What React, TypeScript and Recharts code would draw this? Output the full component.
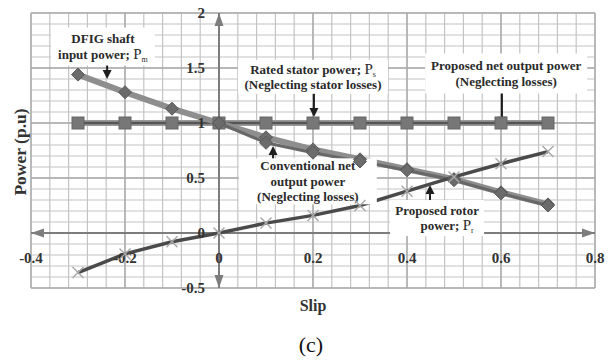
import { LineChart, Line, XAxis, YAxis, ReferenceLine, ReferenceDot } from 'recharts'

// slip values and power curves (p.u.)
const slip = [-0.3, -0.2, -0.1, 0, 0.1, 0.2, 0.3, 0.4, 0.5, 0.6, 0.7]
const shaftInput = [1.44, 1.28, 1.13, 1.0, 0.87, 0.76, 0.67, 0.58, 0.49, 0.37, 0.26]
const conventionalNet = [null, null, null, 1.0, 0.82, 0.73, 0.65, 0.57, 0.48, 0.36, 0.25]
const ratedStator = [1, 1, 1, 1, 1, 1, 1, 1, 1, 1, 1]
const proposedNet = [1, 1, 1, 1, 1, 1, 1, 1, 1, 1, 1]
const rotorPower = [-0.36, -0.19, -0.08, 0, 0.09, 0.16, 0.25, 0.38, 0.51, 0.63, 0.74]

const xTickLabels = [-0.4, -0.2, 0, 0.2, 0.4, 0.6, 0.8]
const yTickLabels = [-0.5, 0, 0.5, 1, 1.5, 2]

// minor grid: every 0.04 in slip, every 0.1 in power
const xGrid = Array.from({ length: 31 }, (_, i) => +(-0.4 + i * 0.04).toFixed(2))
const yGrid = Array.from({ length: 26 }, (_, i) => +(-0.5 + i * 0.1).toFixed(1))

const data = slip.map((s, i) => ({
  s,
  pm: shaftInput[i],
  conv: conventionalNet[i],
  ps: ratedStator[i],
  pnet: proposedNet[i],
  pr: rotorPower[i],
}))

const notes = [
  { id: 'pm', s: -0.247, v: 1.695, w: 104, h: 38, lines: ['DFIG shaft', 'input power; '], subs: [null, 'm'], dx: [0, 0] },
  { id: 'ps', s: 0.2, v: 1.42, w: 150, h: 34, lines: ['Rated stator power; ', '(Neglecting stator losses)'], subs: ['s', null], dx: [0, 0] },
  { id: 'pnet', s: 0.611, v: 1.45, w: 162, h: 40, lines: ['Proposed net output power', '(Neglecting losses)'], subs: [null, null], dx: [0, 0] },
  { id: 'conv', s: 0.189, v: 0.47, w: 138, h: 46, lines: ['Conventional net', 'output power', '(Neglecting losses)'], subs: [null, null, null], dx: [0, 0, 0] },
  { id: 'pr', s: 0.464, v: 0.136, w: 94, h: 36, lines: ['Proposed rotor', 'power; '], subs: [null, 'r'], dx: [0, 10] },
]

const pointers = [
  { id: 'a-pm', from: { x: -0.238, y: 1.59 }, to: { x: -0.238, y: 1.4 } },
  { id: 'a-ps', from: { x: 0.202, y: 1.3 }, to: { x: 0.202, y: 1.055 } },
  { id: 'a-pnet', from: { x: 0.602, y: 1.355 }, to: { x: 0.602, y: 0.975 } },
  { id: 'a-conv', from: { x: 0.115, y: 0.673 }, to: { x: 0.115, y: 0.79 } },
  { id: 'a-pr', from: { x: 0.449, y: 0.29 }, to: { x: 0.449, y: 0.436 } },
]

const SERIF = '"Liberation Serif", "Times New Roman", serif'

const Diamond = (props: any) => {
  const { cx, cy, index, value } = props
  if (value == null || cx == null || cy == null) return <g key={index} />
  const r = 6.5
  return (
    <polygon
      key={index}
      points={`${cx},${cy - r} ${cx + r},${cy} ${cx},${cy + r} ${cx - r},${cy}`}
      fill="#6b6b6b"
      stroke="#5a5a5a"
      strokeWidth={1}
    />
  )
}

const Square = (props: any) => {
  const { cx, cy, index } = props
  const r = 6
  return <rect key={index} x={cx - r} y={cy - r} width={2 * r} height={2 * r} fill="#777" stroke="#666" strokeWidth={1} />
}

const Cross = (props: any) => {
  const { cx, cy, index } = props
  const r = 5.5
  return (
    <g key={index} stroke="#a8a8a8" strokeWidth={1.4}>
      <line x1={cx - r} y1={cy - r} x2={cx + r} y2={cy + r} />
      <line x1={cx - r} y1={cy + r} x2={cx + r} y2={cy - r} />
    </g>
  )
}

const head = (tx: number, ty: number, ux: number, uy: number, L: number, W: number) => {
  const px = -uy
  const py = ux
  const bx = tx - ux * L
  const by = ty - uy * L
  return `${tx},${ty} ${bx + px * W},${by + py * W} ${bx - px * W},${by - py * W}`
}

const MinorLine = (props: any) => {
  const { x1, y1, x2, y2 } = props
  return <line x1={x1} y1={y1} x2={x2} y2={y2} stroke="#c4c4c4" strokeWidth={1.2} />
}

const MajorLine = (props: any) => {
  const { x1, y1, x2, y2 } = props
  return <line x1={x1} y1={y1} x2={x2} y2={y2} stroke="#aaaaaa" strokeWidth={1.4} />
}

const AxisArrows = (props: any) => {
  const { x1, y1, x2, y2 } = props
  const len = Math.hypot(x2 - x1, y2 - y1) || 1
  const ux = (x2 - x1) / len
  const uy = (y2 - y1) / len
  return (
    <g>
      <line x1={x1} y1={y1} x2={x2} y2={y2} stroke="#7d7d7d" strokeWidth={2} />
      <polygon points={head(x2, y2, ux, uy, 13, 4.5)} fill="#7d7d7d" />
      <polygon points={head(x1, y1, -ux, -uy, 13, 4.5)} fill="#7d7d7d" />
    </g>
  )
}

const Pointer = (props: any) => {
  const { x1, y1, x2, y2 } = props
  const len = Math.hypot(x2 - x1, y2 - y1) || 1
  const ux = (x2 - x1) / len
  const uy = (y2 - y1) / len
  return (
    <g>
      <line x1={x1} y1={y1} x2={x2 - ux * 6} y2={y2 - uy * 6} stroke="#1e1e1e" strokeWidth={2} />
      <polygon points={head(x2, y2, ux, uy, 9, 4.5)} fill="#1e1e1e" />
    </g>
  )
}

const NoteBox = ({ cx, cy, note }: any) => {
  const lineH = 15.5
  const first = cy - ((note.lines.length - 1) * lineH) / 2
  return (
    <g>
      <rect x={cx - note.w / 2} y={cy - note.h / 2} width={note.w} height={note.h} fill="#fff" />
      {note.lines.map((ln: string, i: number) => (
        <text
          key={i}
          x={cx + note.dx[i]}
          y={first + i * lineH + 4.5}
          textAnchor="middle"
          fontFamily={SERIF}
          fontWeight="bold"
          fontSize={13}
          fill="#2a2a2a"
        >
          {ln}
          {note.subs[i] && (
            <>
              <tspan fontWeight="normal" fontSize={15}>P</tspan>
              <tspan fontWeight="normal" fontSize={8} dy={3}>{note.subs[i]}</tspan>
            </>
          )}
        </text>
      ))}
    </g>
  )
}

const XTick = ({ cx, cy, value }: any) => (
  <text x={cx} y={cy + 30} textAnchor="middle" fontFamily={SERIF} fontWeight="bold" fontSize={15} fill="#333">
    {value}
  </text>
)

const YTick = ({ cx, cy, value }: any) => (
  <text x={cx - 14} y={cy + 5} textAnchor="end" fontFamily={SERIF} fontWeight="bold" fontSize={15} fill="#333">
    {value}
  </text>
)

export default function App() {
  return (
    <div style={{ position: 'absolute', left: 0, top: 0, width: 614, height: 362, background: '#fff' }}>
      <LineChart width={614} height={362} data={data} margin={{ top: 13, right: 19, bottom: 74, left: 31 }}>
        <XAxis type="number" dataKey="s" domain={[-0.4, 0.8]} hide allowDataOverflow />
        <YAxis type="number" domain={[-0.5, 2]} hide allowDataOverflow />
        {xGrid.map((v) => (
          <ReferenceLine key={`mx${v}`} x={v} shape={MinorLine} />
        ))}
        {yGrid.map((v) => (
          <ReferenceLine key={`my${v}`} y={v} shape={MinorLine} />
        ))}
        {xTickLabels
          .filter((v) => v !== 0)
          .map((v) => (
            <ReferenceLine key={`gx${v}`} x={v} shape={MajorLine} />
          ))}
        {yTickLabels
          .filter((v) => v !== 0)
          .map((v) => (
            <ReferenceLine key={`gy${v}`} y={v} shape={MajorLine} />
          ))}
        <ReferenceLine y={0} shape={AxisArrows} />
        <ReferenceLine x={0} shape={AxisArrows} />
        {xTickLabels.map((v) => (
          <ReferenceDot key={`tx${v}`} x={v} y={0} r={0} shape={(p: any) => <XTick {...p} value={v} />} />
        ))}
        {yTickLabels.map((v) => (
          <ReferenceDot key={`ty${v}`} x={0} y={v} r={0} shape={(p: any) => <YTick {...p} value={v} />} />
        ))}
        {notes.map((n) => (
          <ReferenceDot key={n.id} x={n.s} y={n.v} r={0} shape={(p: any) => <NoteBox {...p} note={n} />} />
        ))}
        {pointers.map((a) => (
          <ReferenceLine key={a.id} segment={[a.from, a.to]} shape={Pointer} />
        ))}
        <Line dataKey="pnet" stroke="#9a9a9a" strokeWidth={6} dot={false} isAnimationActive={false} />
        <Line dataKey="ps" stroke="#555" strokeWidth={2.5} dot={Square} isAnimationActive={false} />
        <Line dataKey="pm" stroke="#8e8e8e" strokeWidth={6} dot={Diamond} isAnimationActive={false} />
        <Line dataKey="conv" stroke="#686868" strokeWidth={3} dot={Diamond} isAnimationActive={false} />
        <Line dataKey="pr" stroke="#4a4a4a" strokeWidth={3.5} dot={Cross} isAnimationActive={false} />
      </LineChart>
      <svg width={614} height={362} style={{ position: 'absolute', left: 0, top: 0, pointerEvents: 'none' }}>
        <text
          x={20}
          y={152}
          transform="rotate(-90 20 152)"
          textAnchor="middle"
          dominantBaseline="central"
          fontFamily={SERIF}
          fontWeight="bold"
          fontSize={17.5}
          fill="#333"
        >
          Power (p.u)
        </text>
        <text x={313} y={311} textAnchor="middle" fontFamily={SERIF} fontWeight="bold" fontSize={16} fill="#333">
          Slip
        </text>
        <text x={311} y={352} textAnchor="middle" fontFamily={SERIF} fontSize={22} fill="#111">
          (c)
        </text>
      </svg>
    </div>
  )
}
